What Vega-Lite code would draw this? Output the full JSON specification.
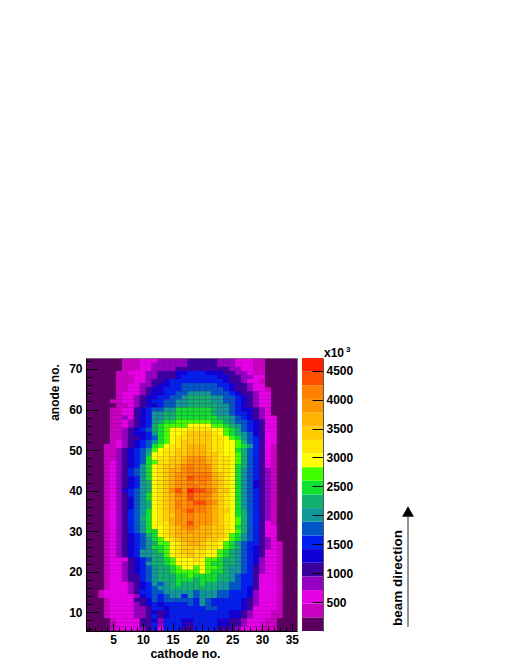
{"$schema":"https://vega.github.io/schema/vega-lite/v6.json","padding":{"left":47,"top":346,"right":5,"bottom":5},"background":"white","config":{"font":"Liberation Sans","concat":{"spacing":3}},"datasets":{"bar":[{"lo":0,"hi":236,"n":118},{"lo":236,"hi":472,"n":354},{"lo":472,"hi":708,"n":590},{"lo":708,"hi":944,"n":826},{"lo":944,"hi":1180,"n":1062},{"lo":1180,"hi":1416,"n":1298},{"lo":1416,"hi":1652,"n":1534},{"lo":1652,"hi":1888,"n":1770},{"lo":1888,"hi":2124,"n":2006},{"lo":2124,"hi":2360,"n":2242},{"lo":2360,"hi":2596,"n":2478},{"lo":2596,"hi":2832,"n":2714},{"lo":2832,"hi":3068,"n":2950},{"lo":3068,"hi":3304,"n":3186},{"lo":3304,"hi":3540,"n":3422},{"lo":3540,"hi":3776,"n":3658},{"lo":3776,"hi":4012,"n":3894},{"lo":4012,"hi":4248,"n":4130},{"lo":4248,"hi":4484,"n":4366},{"lo":4484,"hi":4720,"n":4602}],"cells":[
{"c":1,"a":72,"n":118},{"c":2,"a":72,"n":118},{"c":3,"a":72,"n":118},{"c":4,"a":72,"n":118},{"c":5,"a":72,"n":118},{"c":6,"a":72,"n":118},{"c":7,"a":72,"n":354},{"c":8,"a":72,"n":354},{"c":9,"a":72,"n":354},{"c":10,"a":72,"n":590},{"c":11,"a":72,"n":590},{"c":12,"a":72,"n":590},{"c":13,"a":72,"n":826},{"c":14,"a":72,"n":826},{"c":15,"a":72,"n":826},{"c":16,"a":72,"n":826},{"c":17,"a":72,"n":826},{"c":18,"a":72,"n":1062},{"c":19,"a":72,"n":1062},{"c":20,"a":72,"n":1062},{"c":21,"a":72,"n":1062},{"c":22,"a":72,"n":1062},{"c":23,"a":72,"n":826},{"c":24,"a":72,"n":826},{"c":25,"a":72,"n":826},{"c":26,"a":72,"n":590},{"c":27,"a":72,"n":590},{"c":28,"a":72,"n":590},{"c":29,"a":72,"n":354},{"c":30,"a":72,"n":354},{"c":31,"a":72,"n":118},{"c":32,"a":72,"n":118},{"c":33,"a":72,"n":118},{"c":34,"a":72,"n":118},{"c":35,"a":72,"n":118},
{"c":1,"a":71,"n":118},{"c":2,"a":71,"n":118},{"c":3,"a":71,"n":118},{"c":4,"a":71,"n":118},{"c":5,"a":71,"n":118},{"c":6,"a":71,"n":118},{"c":7,"a":71,"n":354},{"c":8,"a":71,"n":354},{"c":9,"a":71,"n":354},{"c":10,"a":71,"n":590},{"c":11,"a":71,"n":590},{"c":12,"a":71,"n":826},{"c":13,"a":71,"n":826},{"c":14,"a":71,"n":826},{"c":15,"a":71,"n":826},{"c":16,"a":71,"n":826},{"c":17,"a":71,"n":826},{"c":18,"a":71,"n":1062},{"c":19,"a":71,"n":1062},{"c":20,"a":71,"n":1062},{"c":21,"a":71,"n":1062},{"c":22,"a":71,"n":1062},{"c":23,"a":71,"n":826},{"c":24,"a":71,"n":826},{"c":25,"a":71,"n":826},{"c":26,"a":71,"n":590},{"c":27,"a":71,"n":590},{"c":28,"a":71,"n":590},{"c":29,"a":71,"n":354},{"c":30,"a":71,"n":354},{"c":31,"a":71,"n":118},{"c":32,"a":71,"n":118},{"c":33,"a":71,"n":118},{"c":34,"a":71,"n":118},{"c":35,"a":71,"n":118},
{"c":1,"a":70,"n":118},{"c":2,"a":70,"n":118},{"c":3,"a":70,"n":118},{"c":4,"a":70,"n":118},{"c":5,"a":70,"n":118},{"c":6,"a":70,"n":118},{"c":7,"a":70,"n":354},{"c":8,"a":70,"n":354},{"c":9,"a":70,"n":354},{"c":10,"a":70,"n":590},{"c":11,"a":70,"n":590},{"c":12,"a":70,"n":826},{"c":13,"a":70,"n":826},{"c":14,"a":70,"n":826},{"c":15,"a":70,"n":826},{"c":16,"a":70,"n":1062},{"c":17,"a":70,"n":1062},{"c":18,"a":70,"n":1062},{"c":19,"a":70,"n":1062},{"c":20,"a":70,"n":1062},{"c":21,"a":70,"n":1062},{"c":22,"a":70,"n":1062},{"c":23,"a":70,"n":1062},{"c":24,"a":70,"n":1062},{"c":25,"a":70,"n":826},{"c":26,"a":70,"n":826},{"c":27,"a":70,"n":590},{"c":28,"a":70,"n":590},{"c":29,"a":70,"n":354},{"c":30,"a":70,"n":354},{"c":31,"a":70,"n":118},{"c":32,"a":70,"n":118},{"c":33,"a":70,"n":118},{"c":34,"a":70,"n":118},{"c":35,"a":70,"n":118},
{"c":1,"a":69,"n":118},{"c":2,"a":69,"n":118},{"c":3,"a":69,"n":118},{"c":4,"a":69,"n":118},{"c":5,"a":69,"n":118},{"c":6,"a":69,"n":354},{"c":7,"a":69,"n":354},{"c":8,"a":69,"n":590},{"c":9,"a":69,"n":590},{"c":10,"a":69,"n":590},{"c":11,"a":69,"n":826},{"c":12,"a":69,"n":826},{"c":13,"a":69,"n":1062},{"c":14,"a":69,"n":1062},{"c":15,"a":69,"n":1062},{"c":16,"a":69,"n":1298},{"c":17,"a":69,"n":1298},{"c":18,"a":69,"n":1534},{"c":19,"a":69,"n":1534},{"c":20,"a":69,"n":1534},{"c":21,"a":69,"n":1298},{"c":22,"a":69,"n":1298},{"c":23,"a":69,"n":1298},{"c":24,"a":69,"n":1062},{"c":25,"a":69,"n":1062},{"c":26,"a":69,"n":826},{"c":27,"a":69,"n":826},{"c":28,"a":69,"n":590},{"c":29,"a":69,"n":354},{"c":30,"a":69,"n":354},{"c":31,"a":69,"n":118},{"c":32,"a":69,"n":118},{"c":33,"a":69,"n":118},{"c":34,"a":69,"n":118},{"c":35,"a":69,"n":118},
{"c":1,"a":68,"n":118},{"c":2,"a":68,"n":118},{"c":3,"a":68,"n":118},{"c":4,"a":68,"n":118},{"c":5,"a":68,"n":118},{"c":6,"a":68,"n":354},{"c":7,"a":68,"n":354},{"c":8,"a":68,"n":354},{"c":9,"a":68,"n":590},{"c":10,"a":68,"n":590},{"c":11,"a":68,"n":826},{"c":12,"a":68,"n":826},{"c":13,"a":68,"n":1062},{"c":14,"a":68,"n":1062},{"c":15,"a":68,"n":1062},{"c":16,"a":68,"n":1298},{"c":17,"a":68,"n":1534},{"c":18,"a":68,"n":1534},{"c":19,"a":68,"n":1534},{"c":20,"a":68,"n":1534},{"c":21,"a":68,"n":1534},{"c":22,"a":68,"n":1534},{"c":23,"a":68,"n":1298},{"c":24,"a":68,"n":1298},{"c":25,"a":68,"n":1062},{"c":26,"a":68,"n":1062},{"c":27,"a":68,"n":826},{"c":28,"a":68,"n":826},{"c":29,"a":68,"n":590},{"c":30,"a":68,"n":590},{"c":31,"a":68,"n":118},{"c":32,"a":68,"n":118},{"c":33,"a":68,"n":118},{"c":34,"a":68,"n":118},{"c":35,"a":68,"n":118},
{"c":1,"a":67,"n":118},{"c":2,"a":67,"n":118},{"c":3,"a":67,"n":118},{"c":4,"a":67,"n":118},{"c":5,"a":67,"n":118},{"c":6,"a":67,"n":354},{"c":7,"a":67,"n":354},{"c":8,"a":67,"n":354},{"c":9,"a":67,"n":590},{"c":10,"a":67,"n":590},{"c":11,"a":67,"n":826},{"c":12,"a":67,"n":1062},{"c":13,"a":67,"n":1062},{"c":14,"a":67,"n":1298},{"c":15,"a":67,"n":1534},{"c":16,"a":67,"n":1534},{"c":17,"a":67,"n":1534},{"c":18,"a":67,"n":1534},{"c":19,"a":67,"n":1534},{"c":20,"a":67,"n":1534},{"c":21,"a":67,"n":1534},{"c":22,"a":67,"n":1534},{"c":23,"a":67,"n":1534},{"c":24,"a":67,"n":1298},{"c":25,"a":67,"n":1062},{"c":26,"a":67,"n":1062},{"c":27,"a":67,"n":826},{"c":28,"a":67,"n":590},{"c":29,"a":67,"n":590},{"c":30,"a":67,"n":354},{"c":31,"a":67,"n":118},{"c":32,"a":67,"n":118},{"c":33,"a":67,"n":118},{"c":34,"a":67,"n":118},{"c":35,"a":67,"n":118},
{"c":1,"a":66,"n":118},{"c":2,"a":66,"n":118},{"c":3,"a":66,"n":118},{"c":4,"a":66,"n":118},{"c":5,"a":66,"n":118},{"c":6,"a":66,"n":354},{"c":7,"a":66,"n":354},{"c":8,"a":66,"n":590},{"c":9,"a":66,"n":590},{"c":10,"a":66,"n":826},{"c":11,"a":66,"n":826},{"c":12,"a":66,"n":1062},{"c":13,"a":66,"n":1298},{"c":14,"a":66,"n":1298},{"c":15,"a":66,"n":1534},{"c":16,"a":66,"n":1534},{"c":17,"a":66,"n":1770},{"c":18,"a":66,"n":1770},{"c":19,"a":66,"n":1770},{"c":20,"a":66,"n":1770},{"c":21,"a":66,"n":1770},{"c":22,"a":66,"n":1770},{"c":23,"a":66,"n":1534},{"c":24,"a":66,"n":1534},{"c":25,"a":66,"n":1298},{"c":26,"a":66,"n":1062},{"c":27,"a":66,"n":1062},{"c":28,"a":66,"n":826},{"c":29,"a":66,"n":590},{"c":30,"a":66,"n":590},{"c":31,"a":66,"n":118},{"c":32,"a":66,"n":118},{"c":33,"a":66,"n":118},{"c":34,"a":66,"n":118},{"c":35,"a":66,"n":118},
{"c":1,"a":65,"n":118},{"c":2,"a":65,"n":118},{"c":3,"a":65,"n":118},{"c":4,"a":65,"n":118},{"c":5,"a":65,"n":118},{"c":6,"a":65,"n":354},{"c":7,"a":65,"n":354},{"c":8,"a":65,"n":590},{"c":9,"a":65,"n":590},{"c":10,"a":65,"n":826},{"c":11,"a":65,"n":1062},{"c":12,"a":65,"n":1298},{"c":13,"a":65,"n":1298},{"c":14,"a":65,"n":1534},{"c":15,"a":65,"n":1534},{"c":16,"a":65,"n":1534},{"c":17,"a":65,"n":1770},{"c":18,"a":65,"n":1770},{"c":19,"a":65,"n":1770},{"c":20,"a":65,"n":1770},{"c":21,"a":65,"n":1770},{"c":22,"a":65,"n":1770},{"c":23,"a":65,"n":1770},{"c":24,"a":65,"n":1534},{"c":25,"a":65,"n":1298},{"c":26,"a":65,"n":1062},{"c":27,"a":65,"n":1062},{"c":28,"a":65,"n":826},{"c":29,"a":65,"n":590},{"c":30,"a":65,"n":590},{"c":31,"a":65,"n":354},{"c":32,"a":65,"n":118},{"c":33,"a":65,"n":118},{"c":34,"a":65,"n":118},{"c":35,"a":65,"n":118},
{"c":1,"a":64,"n":118},{"c":2,"a":64,"n":118},{"c":3,"a":64,"n":118},{"c":4,"a":64,"n":118},{"c":5,"a":64,"n":118},{"c":6,"a":64,"n":354},{"c":7,"a":64,"n":590},{"c":8,"a":64,"n":590},{"c":9,"a":64,"n":590},{"c":10,"a":64,"n":826},{"c":11,"a":64,"n":1062},{"c":12,"a":64,"n":1298},{"c":13,"a":64,"n":1298},{"c":14,"a":64,"n":1534},{"c":15,"a":64,"n":1534},{"c":16,"a":64,"n":1770},{"c":17,"a":64,"n":1770},{"c":18,"a":64,"n":2006},{"c":19,"a":64,"n":2006},{"c":20,"a":64,"n":2006},{"c":21,"a":64,"n":2006},{"c":22,"a":64,"n":1770},{"c":23,"a":64,"n":1770},{"c":24,"a":64,"n":1770},{"c":25,"a":64,"n":1534},{"c":26,"a":64,"n":1298},{"c":27,"a":64,"n":1062},{"c":28,"a":64,"n":1062},{"c":29,"a":64,"n":826},{"c":30,"a":64,"n":590},{"c":31,"a":64,"n":590},{"c":32,"a":64,"n":118},{"c":33,"a":64,"n":118},{"c":34,"a":64,"n":118},{"c":35,"a":64,"n":118},
{"c":1,"a":63,"n":118},{"c":2,"a":63,"n":118},{"c":3,"a":63,"n":118},{"c":4,"a":63,"n":118},{"c":5,"a":63,"n":118},{"c":6,"a":63,"n":354},{"c":7,"a":63,"n":590},{"c":8,"a":63,"n":590},{"c":9,"a":63,"n":826},{"c":10,"a":63,"n":1062},{"c":11,"a":63,"n":1298},{"c":12,"a":63,"n":1298},{"c":13,"a":63,"n":1534},{"c":14,"a":63,"n":1534},{"c":15,"a":63,"n":1770},{"c":16,"a":63,"n":1770},{"c":17,"a":63,"n":2006},{"c":18,"a":63,"n":2242},{"c":19,"a":63,"n":2242},{"c":20,"a":63,"n":2242},{"c":21,"a":63,"n":2242},{"c":22,"a":63,"n":2006},{"c":23,"a":63,"n":2006},{"c":24,"a":63,"n":1770},{"c":25,"a":63,"n":1770},{"c":26,"a":63,"n":1534},{"c":27,"a":63,"n":1298},{"c":28,"a":63,"n":1062},{"c":29,"a":63,"n":826},{"c":30,"a":63,"n":590},{"c":31,"a":63,"n":590},{"c":32,"a":63,"n":118},{"c":33,"a":63,"n":118},{"c":34,"a":63,"n":118},{"c":35,"a":63,"n":118},
{"c":1,"a":62,"n":118},{"c":2,"a":62,"n":118},{"c":3,"a":62,"n":118},{"c":4,"a":62,"n":118},{"c":5,"a":62,"n":354},{"c":6,"a":62,"n":354},{"c":7,"a":62,"n":590},{"c":8,"a":62,"n":590},{"c":9,"a":62,"n":826},{"c":10,"a":62,"n":1062},{"c":11,"a":62,"n":1298},{"c":12,"a":62,"n":1534},{"c":13,"a":62,"n":1534},{"c":14,"a":62,"n":1770},{"c":15,"a":62,"n":1770},{"c":16,"a":62,"n":2006},{"c":17,"a":62,"n":2006},{"c":18,"a":62,"n":2242},{"c":19,"a":62,"n":2242},{"c":20,"a":62,"n":2242},{"c":21,"a":62,"n":2242},{"c":22,"a":62,"n":2006},{"c":23,"a":62,"n":2006},{"c":24,"a":62,"n":1770},{"c":25,"a":62,"n":1770},{"c":26,"a":62,"n":1534},{"c":27,"a":62,"n":1298},{"c":28,"a":62,"n":1062},{"c":29,"a":62,"n":826},{"c":30,"a":62,"n":590},{"c":31,"a":62,"n":590},{"c":32,"a":62,"n":118},{"c":33,"a":62,"n":118},{"c":34,"a":62,"n":118},{"c":35,"a":62,"n":118},
{"c":1,"a":61,"n":118},{"c":2,"a":61,"n":118},{"c":3,"a":61,"n":118},{"c":4,"a":61,"n":118},{"c":5,"a":61,"n":118},{"c":6,"a":61,"n":354},{"c":7,"a":61,"n":354},{"c":8,"a":61,"n":590},{"c":9,"a":61,"n":826},{"c":10,"a":61,"n":1062},{"c":11,"a":61,"n":1298},{"c":12,"a":61,"n":1298},{"c":13,"a":61,"n":1534},{"c":14,"a":61,"n":1770},{"c":15,"a":61,"n":1770},{"c":16,"a":61,"n":2006},{"c":17,"a":61,"n":2006},{"c":18,"a":61,"n":2242},{"c":19,"a":61,"n":2242},{"c":20,"a":61,"n":2242},{"c":21,"a":61,"n":2242},{"c":22,"a":61,"n":2242},{"c":23,"a":61,"n":2006},{"c":24,"a":61,"n":2006},{"c":25,"a":61,"n":1770},{"c":26,"a":61,"n":1534},{"c":27,"a":61,"n":1298},{"c":28,"a":61,"n":1062},{"c":29,"a":61,"n":826},{"c":30,"a":61,"n":590},{"c":31,"a":61,"n":590},{"c":32,"a":61,"n":118},{"c":33,"a":61,"n":118},{"c":34,"a":61,"n":118},{"c":35,"a":61,"n":118},
{"c":1,"a":60,"n":118},{"c":2,"a":60,"n":118},{"c":3,"a":60,"n":118},{"c":4,"a":60,"n":118},{"c":5,"a":60,"n":354},{"c":6,"a":60,"n":354},{"c":7,"a":60,"n":590},{"c":8,"a":60,"n":590},{"c":9,"a":60,"n":1062},{"c":10,"a":60,"n":1298},{"c":11,"a":60,"n":1534},{"c":12,"a":60,"n":1770},{"c":13,"a":60,"n":1770},{"c":14,"a":60,"n":2006},{"c":15,"a":60,"n":2006},{"c":16,"a":60,"n":2478},{"c":17,"a":60,"n":2478},{"c":18,"a":60,"n":2478},{"c":19,"a":60,"n":2478},{"c":20,"a":60,"n":2478},{"c":21,"a":60,"n":2478},{"c":22,"a":60,"n":2242},{"c":23,"a":60,"n":2006},{"c":24,"a":60,"n":2006},{"c":25,"a":60,"n":1770},{"c":26,"a":60,"n":1534},{"c":27,"a":60,"n":1298},{"c":28,"a":60,"n":1298},{"c":29,"a":60,"n":1062},{"c":30,"a":60,"n":826},{"c":31,"a":60,"n":590},{"c":32,"a":60,"n":118},{"c":33,"a":60,"n":118},{"c":34,"a":60,"n":118},{"c":35,"a":60,"n":118},
{"c":1,"a":59,"n":118},{"c":2,"a":59,"n":118},{"c":3,"a":59,"n":118},{"c":4,"a":59,"n":118},{"c":5,"a":59,"n":354},{"c":6,"a":59,"n":354},{"c":7,"a":59,"n":590},{"c":8,"a":59,"n":590},{"c":9,"a":59,"n":1062},{"c":10,"a":59,"n":1298},{"c":11,"a":59,"n":1534},{"c":12,"a":59,"n":2006},{"c":13,"a":59,"n":2006},{"c":14,"a":59,"n":2242},{"c":15,"a":59,"n":2242},{"c":16,"a":59,"n":2478},{"c":17,"a":59,"n":2478},{"c":18,"a":59,"n":2478},{"c":19,"a":59,"n":2478},{"c":20,"a":59,"n":2478},{"c":21,"a":59,"n":2478},{"c":22,"a":59,"n":2242},{"c":23,"a":59,"n":2006},{"c":24,"a":59,"n":2006},{"c":25,"a":59,"n":1770},{"c":26,"a":59,"n":1534},{"c":27,"a":59,"n":1534},{"c":28,"a":59,"n":1298},{"c":29,"a":59,"n":1062},{"c":30,"a":59,"n":826},{"c":31,"a":59,"n":590},{"c":32,"a":59,"n":118},{"c":33,"a":59,"n":118},{"c":34,"a":59,"n":118},{"c":35,"a":59,"n":118},
{"c":1,"a":58,"n":118},{"c":2,"a":58,"n":118},{"c":3,"a":58,"n":118},{"c":4,"a":58,"n":118},{"c":5,"a":58,"n":354},{"c":6,"a":58,"n":354},{"c":7,"a":58,"n":826},{"c":8,"a":58,"n":590},{"c":9,"a":58,"n":1062},{"c":10,"a":58,"n":1298},{"c":11,"a":58,"n":1534},{"c":12,"a":58,"n":2006},{"c":13,"a":58,"n":2006},{"c":14,"a":58,"n":2242},{"c":15,"a":58,"n":2242},{"c":16,"a":58,"n":2478},{"c":17,"a":58,"n":2478},{"c":18,"a":58,"n":2478},{"c":19,"a":58,"n":2478},{"c":20,"a":58,"n":2478},{"c":21,"a":58,"n":2478},{"c":22,"a":58,"n":2478},{"c":23,"a":58,"n":2242},{"c":24,"a":58,"n":2242},{"c":25,"a":58,"n":2006},{"c":26,"a":58,"n":1770},{"c":27,"a":58,"n":1534},{"c":28,"a":58,"n":1298},{"c":29,"a":58,"n":1062},{"c":30,"a":58,"n":826},{"c":31,"a":58,"n":590},{"c":32,"a":58,"n":590},{"c":33,"a":58,"n":118},{"c":34,"a":58,"n":118},{"c":35,"a":58,"n":118},
{"c":1,"a":57,"n":118},{"c":2,"a":57,"n":118},{"c":3,"a":57,"n":118},{"c":4,"a":57,"n":118},{"c":5,"a":57,"n":354},{"c":6,"a":57,"n":354},{"c":7,"a":57,"n":590},{"c":8,"a":57,"n":826},{"c":9,"a":57,"n":1062},{"c":10,"a":57,"n":1298},{"c":11,"a":57,"n":1534},{"c":12,"a":57,"n":2006},{"c":13,"a":57,"n":2242},{"c":14,"a":57,"n":2478},{"c":15,"a":57,"n":2478},{"c":16,"a":57,"n":2714},{"c":17,"a":57,"n":2714},{"c":18,"a":57,"n":2714},{"c":19,"a":57,"n":2714},{"c":20,"a":57,"n":2714},{"c":21,"a":57,"n":2714},{"c":22,"a":57,"n":2478},{"c":23,"a":57,"n":2478},{"c":24,"a":57,"n":2242},{"c":25,"a":57,"n":2006},{"c":26,"a":57,"n":1770},{"c":27,"a":57,"n":1770},{"c":28,"a":57,"n":1534},{"c":29,"a":57,"n":1298},{"c":30,"a":57,"n":1062},{"c":31,"a":57,"n":590},{"c":32,"a":57,"n":590},{"c":33,"a":57,"n":118},{"c":34,"a":57,"n":118},{"c":35,"a":57,"n":118},
{"c":1,"a":56,"n":118},{"c":2,"a":56,"n":118},{"c":3,"a":56,"n":118},{"c":4,"a":56,"n":118},{"c":5,"a":56,"n":354},{"c":6,"a":56,"n":354},{"c":7,"a":56,"n":590},{"c":8,"a":56,"n":826},{"c":9,"a":56,"n":1062},{"c":10,"a":56,"n":1298},{"c":11,"a":56,"n":1534},{"c":12,"a":56,"n":2242},{"c":13,"a":56,"n":2478},{"c":14,"a":56,"n":2714},{"c":15,"a":56,"n":2714},{"c":16,"a":56,"n":2714},{"c":17,"a":56,"n":2714},{"c":18,"a":56,"n":2950},{"c":19,"a":56,"n":2950},{"c":20,"a":56,"n":2950},{"c":21,"a":56,"n":2950},{"c":22,"a":56,"n":2714},{"c":23,"a":56,"n":2714},{"c":24,"a":56,"n":2478},{"c":25,"a":56,"n":2242},{"c":26,"a":56,"n":2006},{"c":27,"a":56,"n":1770},{"c":28,"a":56,"n":1534},{"c":29,"a":56,"n":1298},{"c":30,"a":56,"n":1062},{"c":31,"a":56,"n":590},{"c":32,"a":56,"n":590},{"c":33,"a":56,"n":118},{"c":34,"a":56,"n":118},{"c":35,"a":56,"n":118},
{"c":1,"a":55,"n":118},{"c":2,"a":55,"n":118},{"c":3,"a":55,"n":118},{"c":4,"a":55,"n":118},{"c":5,"a":55,"n":354},{"c":6,"a":55,"n":354},{"c":7,"a":55,"n":826},{"c":8,"a":55,"n":1062},{"c":9,"a":55,"n":1298},{"c":10,"a":55,"n":1534},{"c":11,"a":55,"n":1770},{"c":12,"a":55,"n":2242},{"c":13,"a":55,"n":2478},{"c":14,"a":55,"n":2714},{"c":15,"a":55,"n":2950},{"c":16,"a":55,"n":2950},{"c":17,"a":55,"n":2950},{"c":18,"a":55,"n":3186},{"c":19,"a":55,"n":3186},{"c":20,"a":55,"n":3186},{"c":21,"a":55,"n":3186},{"c":22,"a":55,"n":2950},{"c":23,"a":55,"n":2950},{"c":24,"a":55,"n":2714},{"c":25,"a":55,"n":2478},{"c":26,"a":55,"n":2242},{"c":27,"a":55,"n":1770},{"c":28,"a":55,"n":1534},{"c":29,"a":55,"n":1298},{"c":30,"a":55,"n":1062},{"c":31,"a":55,"n":590},{"c":32,"a":55,"n":590},{"c":33,"a":55,"n":118},{"c":34,"a":55,"n":118},{"c":35,"a":55,"n":118},
{"c":1,"a":54,"n":118},{"c":2,"a":54,"n":118},{"c":3,"a":54,"n":118},{"c":4,"a":54,"n":118},{"c":5,"a":54,"n":354},{"c":6,"a":54,"n":354},{"c":7,"a":54,"n":826},{"c":8,"a":54,"n":1062},{"c":9,"a":54,"n":1298},{"c":10,"a":54,"n":1298},{"c":11,"a":54,"n":1534},{"c":12,"a":54,"n":2006},{"c":13,"a":54,"n":2478},{"c":14,"a":54,"n":2714},{"c":15,"a":54,"n":2950},{"c":16,"a":54,"n":2950},{"c":17,"a":54,"n":3186},{"c":18,"a":54,"n":3422},{"c":19,"a":54,"n":3422},{"c":20,"a":54,"n":3422},{"c":21,"a":54,"n":3422},{"c":22,"a":54,"n":3186},{"c":23,"a":54,"n":2950},{"c":24,"a":54,"n":2714},{"c":25,"a":54,"n":2478},{"c":26,"a":54,"n":2242},{"c":27,"a":54,"n":2006},{"c":28,"a":54,"n":1770},{"c":29,"a":54,"n":1298},{"c":30,"a":54,"n":1062},{"c":31,"a":54,"n":590},{"c":32,"a":54,"n":590},{"c":33,"a":54,"n":118},{"c":34,"a":54,"n":118},{"c":35,"a":54,"n":118},
{"c":1,"a":53,"n":118},{"c":2,"a":53,"n":118},{"c":3,"a":53,"n":118},{"c":4,"a":53,"n":118},{"c":5,"a":53,"n":354},{"c":6,"a":53,"n":354},{"c":7,"a":53,"n":826},{"c":8,"a":53,"n":1062},{"c":9,"a":53,"n":1062},{"c":10,"a":53,"n":1298},{"c":11,"a":53,"n":1534},{"c":12,"a":53,"n":1770},{"c":13,"a":53,"n":2478},{"c":14,"a":53,"n":2714},{"c":15,"a":53,"n":2950},{"c":16,"a":53,"n":3186},{"c":17,"a":53,"n":3186},{"c":18,"a":53,"n":3422},{"c":19,"a":53,"n":3422},{"c":20,"a":53,"n":3422},{"c":21,"a":53,"n":3422},{"c":22,"a":53,"n":3186},{"c":23,"a":53,"n":3186},{"c":24,"a":53,"n":2950},{"c":25,"a":53,"n":2714},{"c":26,"a":53,"n":2478},{"c":27,"a":53,"n":2006},{"c":28,"a":53,"n":1770},{"c":29,"a":53,"n":1534},{"c":30,"a":53,"n":1062},{"c":31,"a":53,"n":590},{"c":32,"a":53,"n":590},{"c":33,"a":53,"n":118},{"c":34,"a":53,"n":118},{"c":35,"a":53,"n":118},
{"c":1,"a":52,"n":118},{"c":2,"a":52,"n":118},{"c":3,"a":52,"n":118},{"c":4,"a":52,"n":118},{"c":5,"a":52,"n":354},{"c":6,"a":52,"n":590},{"c":7,"a":52,"n":826},{"c":8,"a":52,"n":1062},{"c":9,"a":52,"n":1298},{"c":10,"a":52,"n":1534},{"c":11,"a":52,"n":1770},{"c":12,"a":52,"n":2006},{"c":13,"a":52,"n":2478},{"c":14,"a":52,"n":2714},{"c":15,"a":52,"n":2950},{"c":16,"a":52,"n":3186},{"c":17,"a":52,"n":3422},{"c":18,"a":52,"n":3422},{"c":19,"a":52,"n":3422},{"c":20,"a":52,"n":3422},{"c":21,"a":52,"n":3422},{"c":22,"a":52,"n":3186},{"c":23,"a":52,"n":3186},{"c":24,"a":52,"n":2950},{"c":25,"a":52,"n":2950},{"c":26,"a":52,"n":2714},{"c":27,"a":52,"n":2242},{"c":28,"a":52,"n":1770},{"c":29,"a":52,"n":1534},{"c":30,"a":52,"n":1062},{"c":31,"a":52,"n":590},{"c":32,"a":52,"n":590},{"c":33,"a":52,"n":118},{"c":34,"a":52,"n":118},{"c":35,"a":52,"n":118},
{"c":1,"a":51,"n":118},{"c":2,"a":51,"n":118},{"c":3,"a":51,"n":118},{"c":4,"a":51,"n":354},{"c":5,"a":51,"n":354},{"c":6,"a":51,"n":590},{"c":7,"a":51,"n":826},{"c":8,"a":51,"n":1062},{"c":9,"a":51,"n":1298},{"c":10,"a":51,"n":1534},{"c":11,"a":51,"n":1770},{"c":12,"a":51,"n":2478},{"c":13,"a":51,"n":2714},{"c":14,"a":51,"n":2950},{"c":15,"a":51,"n":3186},{"c":16,"a":51,"n":3186},{"c":17,"a":51,"n":3422},{"c":18,"a":51,"n":3658},{"c":19,"a":51,"n":3658},{"c":20,"a":51,"n":3658},{"c":21,"a":51,"n":3422},{"c":22,"a":51,"n":3186},{"c":23,"a":51,"n":3186},{"c":24,"a":51,"n":2950},{"c":25,"a":51,"n":2950},{"c":26,"a":51,"n":2714},{"c":27,"a":51,"n":2478},{"c":28,"a":51,"n":2006},{"c":29,"a":51,"n":1534},{"c":30,"a":51,"n":1062},{"c":31,"a":51,"n":590},{"c":32,"a":51,"n":354},{"c":33,"a":51,"n":118},{"c":34,"a":51,"n":118},{"c":35,"a":51,"n":118},
{"c":1,"a":50,"n":118},{"c":2,"a":50,"n":118},{"c":3,"a":50,"n":118},{"c":4,"a":50,"n":354},{"c":5,"a":50,"n":354},{"c":6,"a":50,"n":826},{"c":7,"a":50,"n":1062},{"c":8,"a":50,"n":1298},{"c":9,"a":50,"n":1534},{"c":10,"a":50,"n":1770},{"c":11,"a":50,"n":2006},{"c":12,"a":50,"n":2714},{"c":13,"a":50,"n":2950},{"c":14,"a":50,"n":3186},{"c":15,"a":50,"n":3186},{"c":16,"a":50,"n":3422},{"c":17,"a":50,"n":3422},{"c":18,"a":50,"n":3658},{"c":19,"a":50,"n":3658},{"c":20,"a":50,"n":3658},{"c":21,"a":50,"n":3422},{"c":22,"a":50,"n":3186},{"c":23,"a":50,"n":3186},{"c":24,"a":50,"n":2950},{"c":25,"a":50,"n":2950},{"c":26,"a":50,"n":2478},{"c":27,"a":50,"n":2242},{"c":28,"a":50,"n":1770},{"c":29,"a":50,"n":1534},{"c":30,"a":50,"n":1062},{"c":31,"a":50,"n":590},{"c":32,"a":50,"n":354},{"c":33,"a":50,"n":118},{"c":34,"a":50,"n":118},{"c":35,"a":50,"n":118},
{"c":1,"a":49,"n":118},{"c":2,"a":49,"n":118},{"c":3,"a":49,"n":118},{"c":4,"a":49,"n":354},{"c":5,"a":49,"n":354},{"c":6,"a":49,"n":826},{"c":7,"a":49,"n":1062},{"c":8,"a":49,"n":1298},{"c":9,"a":49,"n":1534},{"c":10,"a":49,"n":1770},{"c":11,"a":49,"n":2242},{"c":12,"a":49,"n":2950},{"c":13,"a":49,"n":2950},{"c":14,"a":49,"n":3186},{"c":15,"a":49,"n":3186},{"c":16,"a":49,"n":3422},{"c":17,"a":49,"n":3422},{"c":18,"a":49,"n":3658},{"c":19,"a":49,"n":3658},{"c":20,"a":49,"n":3658},{"c":21,"a":49,"n":3422},{"c":22,"a":49,"n":3422},{"c":23,"a":49,"n":3186},{"c":24,"a":49,"n":2950},{"c":25,"a":49,"n":2950},{"c":26,"a":49,"n":2714},{"c":27,"a":49,"n":2242},{"c":28,"a":49,"n":1770},{"c":29,"a":49,"n":1534},{"c":30,"a":49,"n":1062},{"c":31,"a":49,"n":590},{"c":32,"a":49,"n":354},{"c":33,"a":49,"n":118},{"c":34,"a":49,"n":118},{"c":35,"a":49,"n":118},
{"c":1,"a":48,"n":118},{"c":2,"a":48,"n":118},{"c":3,"a":48,"n":118},{"c":4,"a":48,"n":354},{"c":5,"a":48,"n":354},{"c":6,"a":48,"n":826},{"c":7,"a":48,"n":1062},{"c":8,"a":48,"n":1298},{"c":9,"a":48,"n":1534},{"c":10,"a":48,"n":1770},{"c":11,"a":48,"n":2478},{"c":12,"a":48,"n":2950},{"c":13,"a":48,"n":3186},{"c":14,"a":48,"n":3186},{"c":15,"a":48,"n":3422},{"c":16,"a":48,"n":3422},{"c":17,"a":48,"n":3658},{"c":18,"a":48,"n":3894},{"c":19,"a":48,"n":3894},{"c":20,"a":48,"n":3894},{"c":21,"a":48,"n":3658},{"c":22,"a":48,"n":3422},{"c":23,"a":48,"n":3186},{"c":24,"a":48,"n":3186},{"c":25,"a":48,"n":2950},{"c":26,"a":48,"n":2714},{"c":27,"a":48,"n":2242},{"c":28,"a":48,"n":1770},{"c":29,"a":48,"n":1534},{"c":30,"a":48,"n":1062},{"c":31,"a":48,"n":590},{"c":32,"a":48,"n":354},{"c":33,"a":48,"n":118},{"c":34,"a":48,"n":118},{"c":35,"a":48,"n":118},
{"c":1,"a":47,"n":118},{"c":2,"a":47,"n":118},{"c":3,"a":47,"n":118},{"c":4,"a":47,"n":354},{"c":5,"a":47,"n":590},{"c":6,"a":47,"n":826},{"c":7,"a":47,"n":1062},{"c":8,"a":47,"n":1298},{"c":9,"a":47,"n":1534},{"c":10,"a":47,"n":1770},{"c":11,"a":47,"n":2478},{"c":12,"a":47,"n":2714},{"c":13,"a":47,"n":3186},{"c":14,"a":47,"n":3186},{"c":15,"a":47,"n":3422},{"c":16,"a":47,"n":3422},{"c":17,"a":47,"n":3658},{"c":18,"a":47,"n":3894},{"c":19,"a":47,"n":3894},{"c":20,"a":47,"n":3894},{"c":21,"a":47,"n":3658},{"c":22,"a":47,"n":3422},{"c":23,"a":47,"n":3186},{"c":24,"a":47,"n":3186},{"c":25,"a":47,"n":2950},{"c":26,"a":47,"n":2714},{"c":27,"a":47,"n":2242},{"c":28,"a":47,"n":1770},{"c":29,"a":47,"n":1534},{"c":30,"a":47,"n":1062},{"c":31,"a":47,"n":590},{"c":32,"a":47,"n":354},{"c":33,"a":47,"n":118},{"c":34,"a":47,"n":118},{"c":35,"a":47,"n":118},
{"c":1,"a":46,"n":118},{"c":2,"a":46,"n":118},{"c":3,"a":46,"n":118},{"c":4,"a":46,"n":354},{"c":5,"a":46,"n":590},{"c":6,"a":46,"n":826},{"c":7,"a":46,"n":1062},{"c":8,"a":46,"n":1298},{"c":9,"a":46,"n":1534},{"c":10,"a":46,"n":2006},{"c":11,"a":46,"n":2478},{"c":12,"a":46,"n":2950},{"c":13,"a":46,"n":3186},{"c":14,"a":46,"n":3422},{"c":15,"a":46,"n":3422},{"c":16,"a":46,"n":3658},{"c":17,"a":46,"n":3894},{"c":18,"a":46,"n":4130},{"c":19,"a":46,"n":3894},{"c":20,"a":46,"n":3894},{"c":21,"a":46,"n":3894},{"c":22,"a":46,"n":3422},{"c":23,"a":46,"n":3186},{"c":24,"a":46,"n":3186},{"c":25,"a":46,"n":2950},{"c":26,"a":46,"n":2478},{"c":27,"a":46,"n":2242},{"c":28,"a":46,"n":1770},{"c":29,"a":46,"n":1534},{"c":30,"a":46,"n":1062},{"c":31,"a":46,"n":590},{"c":32,"a":46,"n":354},{"c":33,"a":46,"n":118},{"c":34,"a":46,"n":118},{"c":35,"a":46,"n":118},
{"c":1,"a":45,"n":118},{"c":2,"a":45,"n":118},{"c":3,"a":45,"n":118},{"c":4,"a":45,"n":354},{"c":5,"a":45,"n":590},{"c":6,"a":45,"n":826},{"c":7,"a":45,"n":1062},{"c":8,"a":45,"n":1534},{"c":9,"a":45,"n":1770},{"c":10,"a":45,"n":2006},{"c":11,"a":45,"n":2478},{"c":12,"a":45,"n":2950},{"c":13,"a":45,"n":3186},{"c":14,"a":45,"n":3422},{"c":15,"a":45,"n":3658},{"c":16,"a":45,"n":3658},{"c":17,"a":45,"n":3894},{"c":18,"a":45,"n":4130},{"c":19,"a":45,"n":3894},{"c":20,"a":45,"n":3894},{"c":21,"a":45,"n":3894},{"c":22,"a":45,"n":3422},{"c":23,"a":45,"n":3186},{"c":24,"a":45,"n":3186},{"c":25,"a":45,"n":2950},{"c":26,"a":45,"n":2478},{"c":27,"a":45,"n":2006},{"c":28,"a":45,"n":1770},{"c":29,"a":45,"n":1534},{"c":30,"a":45,"n":1062},{"c":31,"a":45,"n":826},{"c":32,"a":45,"n":354},{"c":33,"a":45,"n":118},{"c":34,"a":45,"n":118},{"c":35,"a":45,"n":118},
{"c":1,"a":44,"n":118},{"c":2,"a":44,"n":118},{"c":3,"a":44,"n":118},{"c":4,"a":44,"n":354},{"c":5,"a":44,"n":590},{"c":6,"a":44,"n":826},{"c":7,"a":44,"n":1062},{"c":8,"a":44,"n":1534},{"c":9,"a":44,"n":1770},{"c":10,"a":44,"n":2006},{"c":11,"a":44,"n":2478},{"c":12,"a":44,"n":2950},{"c":13,"a":44,"n":3186},{"c":14,"a":44,"n":3422},{"c":15,"a":44,"n":3658},{"c":16,"a":44,"n":3894},{"c":17,"a":44,"n":3894},{"c":18,"a":44,"n":4130},{"c":19,"a":44,"n":4130},{"c":20,"a":44,"n":4130},{"c":21,"a":44,"n":4130},{"c":22,"a":44,"n":3658},{"c":23,"a":44,"n":3422},{"c":24,"a":44,"n":3186},{"c":25,"a":44,"n":2950},{"c":26,"a":44,"n":2478},{"c":27,"a":44,"n":2006},{"c":28,"a":44,"n":1770},{"c":29,"a":44,"n":1534},{"c":30,"a":44,"n":1062},{"c":31,"a":44,"n":826},{"c":32,"a":44,"n":354},{"c":33,"a":44,"n":118},{"c":34,"a":44,"n":118},{"c":35,"a":44,"n":118},
{"c":1,"a":43,"n":118},{"c":2,"a":43,"n":118},{"c":3,"a":43,"n":118},{"c":4,"a":43,"n":354},{"c":5,"a":43,"n":590},{"c":6,"a":43,"n":826},{"c":7,"a":43,"n":1062},{"c":8,"a":43,"n":1298},{"c":9,"a":43,"n":1534},{"c":10,"a":43,"n":2006},{"c":11,"a":43,"n":2478},{"c":12,"a":43,"n":2950},{"c":13,"a":43,"n":3186},{"c":14,"a":43,"n":3422},{"c":15,"a":43,"n":3658},{"c":16,"a":43,"n":3894},{"c":17,"a":43,"n":3894},{"c":18,"a":43,"n":4366},{"c":19,"a":43,"n":4130},{"c":20,"a":43,"n":4130},{"c":21,"a":43,"n":4130},{"c":22,"a":43,"n":3658},{"c":23,"a":43,"n":3422},{"c":24,"a":43,"n":3186},{"c":25,"a":43,"n":2950},{"c":26,"a":43,"n":2478},{"c":27,"a":43,"n":2006},{"c":28,"a":43,"n":1770},{"c":29,"a":43,"n":1534},{"c":30,"a":43,"n":1062},{"c":31,"a":43,"n":826},{"c":32,"a":43,"n":354},{"c":33,"a":43,"n":118},{"c":34,"a":43,"n":118},{"c":35,"a":43,"n":118},
{"c":1,"a":42,"n":118},{"c":2,"a":42,"n":118},{"c":3,"a":42,"n":118},{"c":4,"a":42,"n":354},{"c":5,"a":42,"n":590},{"c":6,"a":42,"n":826},{"c":7,"a":42,"n":1062},{"c":8,"a":42,"n":1298},{"c":9,"a":42,"n":1534},{"c":10,"a":42,"n":2006},{"c":11,"a":42,"n":2242},{"c":12,"a":42,"n":2950},{"c":13,"a":42,"n":3186},{"c":14,"a":42,"n":3422},{"c":15,"a":42,"n":3658},{"c":16,"a":42,"n":3894},{"c":17,"a":42,"n":3894},{"c":18,"a":42,"n":4130},{"c":19,"a":42,"n":3894},{"c":20,"a":42,"n":4130},{"c":21,"a":42,"n":3894},{"c":22,"a":42,"n":3658},{"c":23,"a":42,"n":3422},{"c":24,"a":42,"n":3186},{"c":25,"a":42,"n":2950},{"c":26,"a":42,"n":2478},{"c":27,"a":42,"n":2006},{"c":28,"a":42,"n":1770},{"c":29,"a":42,"n":1298},{"c":30,"a":42,"n":1062},{"c":31,"a":42,"n":826},{"c":32,"a":42,"n":354},{"c":33,"a":42,"n":118},{"c":34,"a":42,"n":118},{"c":35,"a":42,"n":118},
{"c":1,"a":41,"n":118},{"c":2,"a":41,"n":118},{"c":3,"a":41,"n":118},{"c":4,"a":41,"n":354},{"c":5,"a":41,"n":590},{"c":6,"a":41,"n":826},{"c":7,"a":41,"n":1062},{"c":8,"a":41,"n":1298},{"c":9,"a":41,"n":1534},{"c":10,"a":41,"n":2006},{"c":11,"a":41,"n":2242},{"c":12,"a":41,"n":2950},{"c":13,"a":41,"n":3186},{"c":14,"a":41,"n":3422},{"c":15,"a":41,"n":3658},{"c":16,"a":41,"n":3894},{"c":17,"a":41,"n":3894},{"c":18,"a":41,"n":4130},{"c":19,"a":41,"n":4130},{"c":20,"a":41,"n":3894},{"c":21,"a":41,"n":3894},{"c":22,"a":41,"n":3658},{"c":23,"a":41,"n":3422},{"c":24,"a":41,"n":3186},{"c":25,"a":41,"n":2950},{"c":26,"a":41,"n":2478},{"c":27,"a":41,"n":2006},{"c":28,"a":41,"n":1770},{"c":29,"a":41,"n":1298},{"c":30,"a":41,"n":1062},{"c":31,"a":41,"n":826},{"c":32,"a":41,"n":354},{"c":33,"a":41,"n":118},{"c":34,"a":41,"n":118},{"c":35,"a":41,"n":118},
{"c":1,"a":40,"n":118},{"c":2,"a":40,"n":118},{"c":3,"a":40,"n":118},{"c":4,"a":40,"n":354},{"c":5,"a":40,"n":590},{"c":6,"a":40,"n":826},{"c":7,"a":40,"n":1298},{"c":8,"a":40,"n":1534},{"c":9,"a":40,"n":1770},{"c":10,"a":40,"n":2006},{"c":11,"a":40,"n":2242},{"c":12,"a":40,"n":2950},{"c":13,"a":40,"n":3186},{"c":14,"a":40,"n":3422},{"c":15,"a":40,"n":3894},{"c":16,"a":40,"n":4366},{"c":17,"a":40,"n":3894},{"c":18,"a":40,"n":4602},{"c":19,"a":40,"n":4366},{"c":20,"a":40,"n":4366},{"c":21,"a":40,"n":4130},{"c":22,"a":40,"n":3894},{"c":23,"a":40,"n":3422},{"c":24,"a":40,"n":3422},{"c":25,"a":40,"n":2950},{"c":26,"a":40,"n":2478},{"c":27,"a":40,"n":2006},{"c":28,"a":40,"n":1770},{"c":29,"a":40,"n":1534},{"c":30,"a":40,"n":1062},{"c":31,"a":40,"n":826},{"c":32,"a":40,"n":354},{"c":33,"a":40,"n":118},{"c":34,"a":40,"n":118},{"c":35,"a":40,"n":118},
{"c":1,"a":39,"n":118},{"c":2,"a":39,"n":118},{"c":3,"a":39,"n":118},{"c":4,"a":39,"n":354},{"c":5,"a":39,"n":590},{"c":6,"a":39,"n":826},{"c":7,"a":39,"n":1062},{"c":8,"a":39,"n":1534},{"c":9,"a":39,"n":1770},{"c":10,"a":39,"n":2006},{"c":11,"a":39,"n":2478},{"c":12,"a":39,"n":2950},{"c":13,"a":39,"n":3186},{"c":14,"a":39,"n":3422},{"c":15,"a":39,"n":3658},{"c":16,"a":39,"n":4130},{"c":17,"a":39,"n":3894},{"c":18,"a":39,"n":4366},{"c":19,"a":39,"n":4130},{"c":20,"a":39,"n":4130},{"c":21,"a":39,"n":4130},{"c":22,"a":39,"n":3658},{"c":23,"a":39,"n":3422},{"c":24,"a":39,"n":3186},{"c":25,"a":39,"n":2950},{"c":26,"a":39,"n":2478},{"c":27,"a":39,"n":2006},{"c":28,"a":39,"n":1770},{"c":29,"a":39,"n":1534},{"c":30,"a":39,"n":1062},{"c":31,"a":39,"n":826},{"c":32,"a":39,"n":354},{"c":33,"a":39,"n":118},{"c":34,"a":39,"n":118},{"c":35,"a":39,"n":118},
{"c":1,"a":38,"n":118},{"c":2,"a":38,"n":118},{"c":3,"a":38,"n":118},{"c":4,"a":38,"n":354},{"c":5,"a":38,"n":590},{"c":6,"a":38,"n":826},{"c":7,"a":38,"n":1062},{"c":8,"a":38,"n":1298},{"c":9,"a":38,"n":1770},{"c":10,"a":38,"n":2006},{"c":11,"a":38,"n":2478},{"c":12,"a":38,"n":2950},{"c":13,"a":38,"n":3186},{"c":14,"a":38,"n":3422},{"c":15,"a":38,"n":3658},{"c":16,"a":38,"n":3894},{"c":17,"a":38,"n":3894},{"c":18,"a":38,"n":4366},{"c":19,"a":38,"n":4130},{"c":20,"a":38,"n":4130},{"c":21,"a":38,"n":3894},{"c":22,"a":38,"n":3658},{"c":23,"a":38,"n":3422},{"c":24,"a":38,"n":3186},{"c":25,"a":38,"n":2950},{"c":26,"a":38,"n":2478},{"c":27,"a":38,"n":2006},{"c":28,"a":38,"n":1770},{"c":29,"a":38,"n":1534},{"c":30,"a":38,"n":1062},{"c":31,"a":38,"n":826},{"c":32,"a":38,"n":354},{"c":33,"a":38,"n":118},{"c":34,"a":38,"n":118},{"c":35,"a":38,"n":118},
{"c":1,"a":37,"n":118},{"c":2,"a":37,"n":118},{"c":3,"a":37,"n":118},{"c":4,"a":37,"n":354},{"c":5,"a":37,"n":590},{"c":6,"a":37,"n":826},{"c":7,"a":37,"n":1062},{"c":8,"a":37,"n":1298},{"c":9,"a":37,"n":1770},{"c":10,"a":37,"n":2006},{"c":11,"a":37,"n":2242},{"c":12,"a":37,"n":2950},{"c":13,"a":37,"n":3186},{"c":14,"a":37,"n":3422},{"c":15,"a":37,"n":3658},{"c":16,"a":37,"n":4130},{"c":17,"a":37,"n":3894},{"c":18,"a":37,"n":4130},{"c":19,"a":37,"n":4366},{"c":20,"a":37,"n":4366},{"c":21,"a":37,"n":4130},{"c":22,"a":37,"n":3894},{"c":23,"a":37,"n":3422},{"c":24,"a":37,"n":3186},{"c":25,"a":37,"n":2950},{"c":26,"a":37,"n":2478},{"c":27,"a":37,"n":2006},{"c":28,"a":37,"n":1770},{"c":29,"a":37,"n":1534},{"c":30,"a":37,"n":1062},{"c":31,"a":37,"n":826},{"c":32,"a":37,"n":354},{"c":33,"a":37,"n":118},{"c":34,"a":37,"n":118},{"c":35,"a":37,"n":118},
{"c":1,"a":36,"n":118},{"c":2,"a":36,"n":118},{"c":3,"a":36,"n":118},{"c":4,"a":36,"n":354},{"c":5,"a":36,"n":590},{"c":6,"a":36,"n":826},{"c":7,"a":36,"n":1062},{"c":8,"a":36,"n":1298},{"c":9,"a":36,"n":1770},{"c":10,"a":36,"n":2006},{"c":11,"a":36,"n":2242},{"c":12,"a":36,"n":2950},{"c":13,"a":36,"n":3186},{"c":14,"a":36,"n":3422},{"c":15,"a":36,"n":3658},{"c":16,"a":36,"n":4130},{"c":17,"a":36,"n":3894},{"c":18,"a":36,"n":4130},{"c":19,"a":36,"n":4130},{"c":20,"a":36,"n":4130},{"c":21,"a":36,"n":3894},{"c":22,"a":36,"n":3658},{"c":23,"a":36,"n":3422},{"c":24,"a":36,"n":3186},{"c":25,"a":36,"n":2950},{"c":26,"a":36,"n":2478},{"c":27,"a":36,"n":2006},{"c":28,"a":36,"n":1770},{"c":29,"a":36,"n":1534},{"c":30,"a":36,"n":1062},{"c":31,"a":36,"n":826},{"c":32,"a":36,"n":354},{"c":33,"a":36,"n":118},{"c":34,"a":36,"n":118},{"c":35,"a":36,"n":118},
{"c":1,"a":35,"n":118},{"c":2,"a":35,"n":118},{"c":3,"a":35,"n":118},{"c":4,"a":35,"n":354},{"c":5,"a":35,"n":590},{"c":6,"a":35,"n":826},{"c":7,"a":35,"n":1062},{"c":8,"a":35,"n":1534},{"c":9,"a":35,"n":1770},{"c":10,"a":35,"n":2006},{"c":11,"a":35,"n":2478},{"c":12,"a":35,"n":2950},{"c":13,"a":35,"n":3186},{"c":14,"a":35,"n":3422},{"c":15,"a":35,"n":3658},{"c":16,"a":35,"n":3894},{"c":17,"a":35,"n":4130},{"c":18,"a":35,"n":4366},{"c":19,"a":35,"n":4130},{"c":20,"a":35,"n":4130},{"c":21,"a":35,"n":3894},{"c":22,"a":35,"n":3658},{"c":23,"a":35,"n":3422},{"c":24,"a":35,"n":3422},{"c":25,"a":35,"n":2950},{"c":26,"a":35,"n":2478},{"c":27,"a":35,"n":2242},{"c":28,"a":35,"n":1770},{"c":29,"a":35,"n":1534},{"c":30,"a":35,"n":1062},{"c":31,"a":35,"n":826},{"c":32,"a":35,"n":354},{"c":33,"a":35,"n":118},{"c":34,"a":35,"n":118},{"c":35,"a":35,"n":118},
{"c":1,"a":34,"n":118},{"c":2,"a":34,"n":118},{"c":3,"a":34,"n":118},{"c":4,"a":34,"n":354},{"c":5,"a":34,"n":590},{"c":6,"a":34,"n":826},{"c":7,"a":34,"n":1062},{"c":8,"a":34,"n":1534},{"c":9,"a":34,"n":1770},{"c":10,"a":34,"n":2006},{"c":11,"a":34,"n":2478},{"c":12,"a":34,"n":2950},{"c":13,"a":34,"n":3186},{"c":14,"a":34,"n":3422},{"c":15,"a":34,"n":3422},{"c":16,"a":34,"n":3894},{"c":17,"a":34,"n":3894},{"c":18,"a":34,"n":4130},{"c":19,"a":34,"n":3894},{"c":20,"a":34,"n":3894},{"c":21,"a":34,"n":3894},{"c":22,"a":34,"n":3658},{"c":23,"a":34,"n":3422},{"c":24,"a":34,"n":3186},{"c":25,"a":34,"n":2950},{"c":26,"a":34,"n":2478},{"c":27,"a":34,"n":2242},{"c":28,"a":34,"n":1770},{"c":29,"a":34,"n":1534},{"c":30,"a":34,"n":1062},{"c":31,"a":34,"n":826},{"c":32,"a":34,"n":354},{"c":33,"a":34,"n":118},{"c":34,"a":34,"n":118},{"c":35,"a":34,"n":118},
{"c":1,"a":33,"n":118},{"c":2,"a":33,"n":118},{"c":3,"a":33,"n":118},{"c":4,"a":33,"n":354},{"c":5,"a":33,"n":590},{"c":6,"a":33,"n":826},{"c":7,"a":33,"n":1062},{"c":8,"a":33,"n":1534},{"c":9,"a":33,"n":1770},{"c":10,"a":33,"n":2242},{"c":11,"a":33,"n":2478},{"c":12,"a":33,"n":2950},{"c":13,"a":33,"n":3186},{"c":14,"a":33,"n":3422},{"c":15,"a":33,"n":3658},{"c":16,"a":33,"n":3894},{"c":17,"a":33,"n":3894},{"c":18,"a":33,"n":4130},{"c":19,"a":33,"n":3894},{"c":20,"a":33,"n":3894},{"c":21,"a":33,"n":3894},{"c":22,"a":33,"n":3658},{"c":23,"a":33,"n":3422},{"c":24,"a":33,"n":3186},{"c":25,"a":33,"n":2950},{"c":26,"a":33,"n":2714},{"c":27,"a":33,"n":2242},{"c":28,"a":33,"n":1770},{"c":29,"a":33,"n":1534},{"c":30,"a":33,"n":1062},{"c":31,"a":33,"n":826},{"c":32,"a":33,"n":354},{"c":33,"a":33,"n":118},{"c":34,"a":33,"n":118},{"c":35,"a":33,"n":118},
{"c":1,"a":32,"n":118},{"c":2,"a":32,"n":118},{"c":3,"a":32,"n":118},{"c":4,"a":32,"n":354},{"c":5,"a":32,"n":590},{"c":6,"a":32,"n":826},{"c":7,"a":32,"n":1062},{"c":8,"a":32,"n":1534},{"c":9,"a":32,"n":1770},{"c":10,"a":32,"n":2006},{"c":11,"a":32,"n":2478},{"c":12,"a":32,"n":2950},{"c":13,"a":32,"n":3186},{"c":14,"a":32,"n":3186},{"c":15,"a":32,"n":3658},{"c":16,"a":32,"n":3894},{"c":17,"a":32,"n":3894},{"c":18,"a":32,"n":4366},{"c":19,"a":32,"n":3894},{"c":20,"a":32,"n":3894},{"c":21,"a":32,"n":3894},{"c":22,"a":32,"n":3658},{"c":23,"a":32,"n":3422},{"c":24,"a":32,"n":3186},{"c":25,"a":32,"n":2950},{"c":26,"a":32,"n":2714},{"c":27,"a":32,"n":2242},{"c":28,"a":32,"n":1770},{"c":29,"a":32,"n":1534},{"c":30,"a":32,"n":1062},{"c":31,"a":32,"n":590},{"c":32,"a":32,"n":354},{"c":33,"a":32,"n":118},{"c":34,"a":32,"n":118},{"c":35,"a":32,"n":118},
{"c":1,"a":31,"n":118},{"c":2,"a":31,"n":118},{"c":3,"a":31,"n":118},{"c":4,"a":31,"n":354},{"c":5,"a":31,"n":590},{"c":6,"a":31,"n":826},{"c":7,"a":31,"n":1062},{"c":8,"a":31,"n":1534},{"c":9,"a":31,"n":1770},{"c":10,"a":31,"n":2006},{"c":11,"a":31,"n":2478},{"c":12,"a":31,"n":2950},{"c":13,"a":31,"n":2950},{"c":14,"a":31,"n":3186},{"c":15,"a":31,"n":3422},{"c":16,"a":31,"n":3658},{"c":17,"a":31,"n":3894},{"c":18,"a":31,"n":4130},{"c":19,"a":31,"n":3894},{"c":20,"a":31,"n":3658},{"c":21,"a":31,"n":3658},{"c":22,"a":31,"n":3422},{"c":23,"a":31,"n":3422},{"c":24,"a":31,"n":3186},{"c":25,"a":31,"n":2950},{"c":26,"a":31,"n":2478},{"c":27,"a":31,"n":2242},{"c":28,"a":31,"n":1770},{"c":29,"a":31,"n":1534},{"c":30,"a":31,"n":1062},{"c":31,"a":31,"n":590},{"c":32,"a":31,"n":590},{"c":33,"a":31,"n":118},{"c":34,"a":31,"n":118},{"c":35,"a":31,"n":118},
{"c":1,"a":30,"n":118},{"c":2,"a":30,"n":118},{"c":3,"a":30,"n":118},{"c":4,"a":30,"n":354},{"c":5,"a":30,"n":590},{"c":6,"a":30,"n":826},{"c":7,"a":30,"n":1062},{"c":8,"a":30,"n":1534},{"c":9,"a":30,"n":1770},{"c":10,"a":30,"n":2006},{"c":11,"a":30,"n":2478},{"c":12,"a":30,"n":2478},{"c":13,"a":30,"n":2950},{"c":14,"a":30,"n":3186},{"c":15,"a":30,"n":3422},{"c":16,"a":30,"n":3658},{"c":17,"a":30,"n":3658},{"c":18,"a":30,"n":3894},{"c":19,"a":30,"n":3658},{"c":20,"a":30,"n":3658},{"c":21,"a":30,"n":3658},{"c":22,"a":30,"n":3422},{"c":23,"a":30,"n":3422},{"c":24,"a":30,"n":3186},{"c":25,"a":30,"n":2950},{"c":26,"a":30,"n":2714},{"c":27,"a":30,"n":2242},{"c":28,"a":30,"n":1770},{"c":29,"a":30,"n":1534},{"c":30,"a":30,"n":1062},{"c":31,"a":30,"n":590},{"c":32,"a":30,"n":590},{"c":33,"a":30,"n":118},{"c":34,"a":30,"n":118},{"c":35,"a":30,"n":118},
{"c":1,"a":29,"n":118},{"c":2,"a":29,"n":118},{"c":3,"a":29,"n":118},{"c":4,"a":29,"n":354},{"c":5,"a":29,"n":590},{"c":6,"a":29,"n":826},{"c":7,"a":29,"n":1062},{"c":8,"a":29,"n":1298},{"c":9,"a":29,"n":1534},{"c":10,"a":29,"n":1770},{"c":11,"a":29,"n":2242},{"c":12,"a":29,"n":2478},{"c":13,"a":29,"n":2950},{"c":14,"a":29,"n":3186},{"c":15,"a":29,"n":3422},{"c":16,"a":29,"n":3658},{"c":17,"a":29,"n":3658},{"c":18,"a":29,"n":3658},{"c":19,"a":29,"n":3658},{"c":20,"a":29,"n":3658},{"c":21,"a":29,"n":3658},{"c":22,"a":29,"n":3422},{"c":23,"a":29,"n":3422},{"c":24,"a":29,"n":3186},{"c":25,"a":29,"n":2714},{"c":26,"a":29,"n":2478},{"c":27,"a":29,"n":2006},{"c":28,"a":29,"n":1770},{"c":29,"a":29,"n":1534},{"c":30,"a":29,"n":1062},{"c":31,"a":29,"n":590},{"c":32,"a":29,"n":590},{"c":33,"a":29,"n":118},{"c":34,"a":29,"n":118},{"c":35,"a":29,"n":118},
{"c":1,"a":28,"n":118},{"c":2,"a":28,"n":118},{"c":3,"a":28,"n":118},{"c":4,"a":28,"n":354},{"c":5,"a":28,"n":590},{"c":6,"a":28,"n":826},{"c":7,"a":28,"n":1062},{"c":8,"a":28,"n":1298},{"c":9,"a":28,"n":1534},{"c":10,"a":28,"n":1770},{"c":11,"a":28,"n":2006},{"c":12,"a":28,"n":2478},{"c":13,"a":28,"n":2714},{"c":14,"a":28,"n":2950},{"c":15,"a":28,"n":3186},{"c":16,"a":28,"n":3422},{"c":17,"a":28,"n":3658},{"c":18,"a":28,"n":3658},{"c":19,"a":28,"n":3658},{"c":20,"a":28,"n":3658},{"c":21,"a":28,"n":3422},{"c":22,"a":28,"n":3422},{"c":23,"a":28,"n":3186},{"c":24,"a":28,"n":2950},{"c":25,"a":28,"n":2714},{"c":26,"a":28,"n":2478},{"c":27,"a":28,"n":2006},{"c":28,"a":28,"n":1770},{"c":29,"a":28,"n":1534},{"c":30,"a":28,"n":1062},{"c":31,"a":28,"n":826},{"c":32,"a":28,"n":590},{"c":33,"a":28,"n":118},{"c":34,"a":28,"n":118},{"c":35,"a":28,"n":118},
{"c":1,"a":27,"n":118},{"c":2,"a":27,"n":118},{"c":3,"a":27,"n":118},{"c":4,"a":27,"n":354},{"c":5,"a":27,"n":590},{"c":6,"a":27,"n":826},{"c":7,"a":27,"n":1062},{"c":8,"a":27,"n":1298},{"c":9,"a":27,"n":1534},{"c":10,"a":27,"n":1770},{"c":11,"a":27,"n":2006},{"c":12,"a":27,"n":2242},{"c":13,"a":27,"n":2714},{"c":14,"a":27,"n":2714},{"c":15,"a":27,"n":2950},{"c":16,"a":27,"n":3186},{"c":17,"a":27,"n":3422},{"c":18,"a":27,"n":3658},{"c":19,"a":27,"n":3658},{"c":20,"a":27,"n":3422},{"c":21,"a":27,"n":3186},{"c":22,"a":27,"n":3186},{"c":23,"a":27,"n":2950},{"c":24,"a":27,"n":2714},{"c":25,"a":27,"n":2478},{"c":26,"a":27,"n":2006},{"c":27,"a":27,"n":1770},{"c":28,"a":27,"n":1534},{"c":29,"a":27,"n":1534},{"c":30,"a":27,"n":1062},{"c":31,"a":27,"n":826},{"c":32,"a":27,"n":590},{"c":33,"a":27,"n":354},{"c":34,"a":27,"n":118},{"c":35,"a":27,"n":118},
{"c":1,"a":26,"n":118},{"c":2,"a":26,"n":118},{"c":3,"a":26,"n":118},{"c":4,"a":26,"n":354},{"c":5,"a":26,"n":590},{"c":6,"a":26,"n":826},{"c":7,"a":26,"n":1062},{"c":8,"a":26,"n":1298},{"c":9,"a":26,"n":1534},{"c":10,"a":26,"n":1770},{"c":11,"a":26,"n":2006},{"c":12,"a":26,"n":2478},{"c":13,"a":26,"n":2478},{"c":14,"a":26,"n":2714},{"c":15,"a":26,"n":2950},{"c":16,"a":26,"n":3186},{"c":17,"a":26,"n":3422},{"c":18,"a":26,"n":3422},{"c":19,"a":26,"n":3422},{"c":20,"a":26,"n":3422},{"c":21,"a":26,"n":3186},{"c":22,"a":26,"n":3186},{"c":23,"a":26,"n":2950},{"c":24,"a":26,"n":2714},{"c":25,"a":26,"n":2478},{"c":26,"a":26,"n":2242},{"c":27,"a":26,"n":1770},{"c":28,"a":26,"n":1534},{"c":29,"a":26,"n":1298},{"c":30,"a":26,"n":1062},{"c":31,"a":26,"n":826},{"c":32,"a":26,"n":590},{"c":33,"a":26,"n":354},{"c":34,"a":26,"n":118},{"c":35,"a":26,"n":118},
{"c":1,"a":25,"n":118},{"c":2,"a":25,"n":118},{"c":3,"a":25,"n":118},{"c":4,"a":25,"n":354},{"c":5,"a":25,"n":590},{"c":6,"a":25,"n":826},{"c":7,"a":25,"n":1062},{"c":8,"a":25,"n":1298},{"c":9,"a":25,"n":1534},{"c":10,"a":25,"n":2006},{"c":11,"a":25,"n":2006},{"c":12,"a":25,"n":2242},{"c":13,"a":25,"n":2478},{"c":14,"a":25,"n":2714},{"c":15,"a":25,"n":2950},{"c":16,"a":25,"n":3186},{"c":17,"a":25,"n":3422},{"c":18,"a":25,"n":3422},{"c":19,"a":25,"n":3186},{"c":20,"a":25,"n":3186},{"c":21,"a":25,"n":2950},{"c":22,"a":25,"n":2950},{"c":23,"a":25,"n":2714},{"c":24,"a":25,"n":2478},{"c":25,"a":25,"n":2242},{"c":26,"a":25,"n":2006},{"c":27,"a":25,"n":1770},{"c":28,"a":25,"n":1534},{"c":29,"a":25,"n":1298},{"c":30,"a":25,"n":1062},{"c":31,"a":25,"n":590},{"c":32,"a":25,"n":590},{"c":33,"a":25,"n":354},{"c":34,"a":25,"n":118},{"c":35,"a":25,"n":118},
{"c":1,"a":24,"n":118},{"c":2,"a":24,"n":118},{"c":3,"a":24,"n":118},{"c":4,"a":24,"n":354},{"c":5,"a":24,"n":590},{"c":6,"a":24,"n":826},{"c":7,"a":24,"n":1062},{"c":8,"a":24,"n":1298},{"c":9,"a":24,"n":1534},{"c":10,"a":24,"n":2006},{"c":11,"a":24,"n":2006},{"c":12,"a":24,"n":2242},{"c":13,"a":24,"n":2242},{"c":14,"a":24,"n":2714},{"c":15,"a":24,"n":2950},{"c":16,"a":24,"n":3186},{"c":17,"a":24,"n":3186},{"c":18,"a":24,"n":3422},{"c":19,"a":24,"n":3186},{"c":20,"a":24,"n":3186},{"c":21,"a":24,"n":2950},{"c":22,"a":24,"n":2950},{"c":23,"a":24,"n":2714},{"c":24,"a":24,"n":2478},{"c":25,"a":24,"n":2242},{"c":26,"a":24,"n":2006},{"c":27,"a":24,"n":1770},{"c":28,"a":24,"n":1534},{"c":29,"a":24,"n":1298},{"c":30,"a":24,"n":1062},{"c":31,"a":24,"n":590},{"c":32,"a":24,"n":590},{"c":33,"a":24,"n":354},{"c":34,"a":24,"n":118},{"c":35,"a":24,"n":118},
{"c":1,"a":23,"n":118},{"c":2,"a":23,"n":118},{"c":3,"a":23,"n":118},{"c":4,"a":23,"n":354},{"c":5,"a":23,"n":590},{"c":6,"a":23,"n":590},{"c":7,"a":23,"n":590},{"c":8,"a":23,"n":1062},{"c":9,"a":23,"n":1298},{"c":10,"a":23,"n":1534},{"c":11,"a":23,"n":1770},{"c":12,"a":23,"n":2242},{"c":13,"a":23,"n":2242},{"c":14,"a":23,"n":2478},{"c":15,"a":23,"n":2714},{"c":16,"a":23,"n":2950},{"c":17,"a":23,"n":2950},{"c":18,"a":23,"n":2950},{"c":19,"a":23,"n":3186},{"c":20,"a":23,"n":2950},{"c":21,"a":23,"n":2714},{"c":22,"a":23,"n":2714},{"c":23,"a":23,"n":2478},{"c":24,"a":23,"n":2242},{"c":25,"a":23,"n":2242},{"c":26,"a":23,"n":2006},{"c":27,"a":23,"n":1770},{"c":28,"a":23,"n":1534},{"c":29,"a":23,"n":1298},{"c":30,"a":23,"n":826},{"c":31,"a":23,"n":590},{"c":32,"a":23,"n":590},{"c":33,"a":23,"n":354},{"c":34,"a":23,"n":118},{"c":35,"a":23,"n":118},
{"c":1,"a":22,"n":118},{"c":2,"a":22,"n":118},{"c":3,"a":22,"n":118},{"c":4,"a":22,"n":354},{"c":5,"a":22,"n":590},{"c":6,"a":22,"n":590},{"c":7,"a":22,"n":826},{"c":8,"a":22,"n":1062},{"c":9,"a":22,"n":1298},{"c":10,"a":22,"n":1534},{"c":11,"a":22,"n":2006},{"c":12,"a":22,"n":2242},{"c":13,"a":22,"n":2242},{"c":14,"a":22,"n":2478},{"c":15,"a":22,"n":2714},{"c":16,"a":22,"n":2950},{"c":17,"a":22,"n":2950},{"c":18,"a":22,"n":2950},{"c":19,"a":22,"n":2950},{"c":20,"a":22,"n":2950},{"c":21,"a":22,"n":2714},{"c":22,"a":22,"n":2478},{"c":23,"a":22,"n":2478},{"c":24,"a":22,"n":2242},{"c":25,"a":22,"n":2242},{"c":26,"a":22,"n":2006},{"c":27,"a":22,"n":1770},{"c":28,"a":22,"n":1534},{"c":29,"a":22,"n":1298},{"c":30,"a":22,"n":826},{"c":31,"a":22,"n":590},{"c":32,"a":22,"n":590},{"c":33,"a":22,"n":354},{"c":34,"a":22,"n":118},{"c":35,"a":22,"n":118},
{"c":1,"a":21,"n":118},{"c":2,"a":21,"n":118},{"c":3,"a":21,"n":118},{"c":4,"a":21,"n":354},{"c":5,"a":21,"n":590},{"c":6,"a":21,"n":590},{"c":7,"a":21,"n":826},{"c":8,"a":21,"n":1062},{"c":9,"a":21,"n":1298},{"c":10,"a":21,"n":1534},{"c":11,"a":21,"n":1770},{"c":12,"a":21,"n":2006},{"c":13,"a":21,"n":2242},{"c":14,"a":21,"n":2242},{"c":15,"a":21,"n":2478},{"c":16,"a":21,"n":2714},{"c":17,"a":21,"n":2950},{"c":18,"a":21,"n":2950},{"c":19,"a":21,"n":2714},{"c":20,"a":21,"n":2950},{"c":21,"a":21,"n":2714},{"c":22,"a":21,"n":2714},{"c":23,"a":21,"n":2478},{"c":24,"a":21,"n":2242},{"c":25,"a":21,"n":2006},{"c":26,"a":21,"n":2006},{"c":27,"a":21,"n":1770},{"c":28,"a":21,"n":1534},{"c":29,"a":21,"n":1062},{"c":30,"a":21,"n":826},{"c":31,"a":21,"n":590},{"c":32,"a":21,"n":590},{"c":33,"a":21,"n":354},{"c":34,"a":21,"n":118},{"c":35,"a":21,"n":118},
{"c":1,"a":20,"n":118},{"c":2,"a":20,"n":118},{"c":3,"a":20,"n":118},{"c":4,"a":20,"n":354},{"c":5,"a":20,"n":590},{"c":6,"a":20,"n":590},{"c":7,"a":20,"n":826},{"c":8,"a":20,"n":1062},{"c":9,"a":20,"n":1298},{"c":10,"a":20,"n":1534},{"c":11,"a":20,"n":1770},{"c":12,"a":20,"n":2006},{"c":13,"a":20,"n":2242},{"c":14,"a":20,"n":2242},{"c":15,"a":20,"n":2478},{"c":16,"a":20,"n":2714},{"c":17,"a":20,"n":2714},{"c":18,"a":20,"n":2714},{"c":19,"a":20,"n":2714},{"c":20,"a":20,"n":2950},{"c":21,"a":20,"n":2714},{"c":22,"a":20,"n":2478},{"c":23,"a":20,"n":2478},{"c":24,"a":20,"n":2242},{"c":25,"a":20,"n":2006},{"c":26,"a":20,"n":2006},{"c":27,"a":20,"n":1770},{"c":28,"a":20,"n":1534},{"c":29,"a":20,"n":1062},{"c":30,"a":20,"n":826},{"c":31,"a":20,"n":590},{"c":32,"a":20,"n":590},{"c":33,"a":20,"n":354},{"c":34,"a":20,"n":118},{"c":35,"a":20,"n":118},
{"c":1,"a":19,"n":118},{"c":2,"a":19,"n":118},{"c":3,"a":19,"n":118},{"c":4,"a":19,"n":354},{"c":5,"a":19,"n":590},{"c":6,"a":19,"n":590},{"c":7,"a":19,"n":826},{"c":8,"a":19,"n":1062},{"c":9,"a":19,"n":1062},{"c":10,"a":19,"n":1534},{"c":11,"a":19,"n":1770},{"c":12,"a":19,"n":2006},{"c":13,"a":19,"n":2242},{"c":14,"a":19,"n":2242},{"c":15,"a":19,"n":2242},{"c":16,"a":19,"n":2478},{"c":17,"a":19,"n":2478},{"c":18,"a":19,"n":2714},{"c":19,"a":19,"n":2478},{"c":20,"a":19,"n":2478},{"c":21,"a":19,"n":2478},{"c":22,"a":19,"n":2478},{"c":23,"a":19,"n":2242},{"c":24,"a":19,"n":2242},{"c":25,"a":19,"n":2006},{"c":26,"a":19,"n":1770},{"c":27,"a":19,"n":1534},{"c":28,"a":19,"n":1534},{"c":29,"a":19,"n":1062},{"c":30,"a":19,"n":590},{"c":31,"a":19,"n":590},{"c":32,"a":19,"n":590},{"c":33,"a":19,"n":354},{"c":34,"a":19,"n":118},{"c":35,"a":19,"n":118},
{"c":1,"a":18,"n":118},{"c":2,"a":18,"n":118},{"c":3,"a":18,"n":118},{"c":4,"a":18,"n":354},{"c":5,"a":18,"n":590},{"c":6,"a":18,"n":590},{"c":7,"a":18,"n":826},{"c":8,"a":18,"n":1062},{"c":9,"a":18,"n":1062},{"c":10,"a":18,"n":1534},{"c":11,"a":18,"n":1770},{"c":12,"a":18,"n":2006},{"c":13,"a":18,"n":2242},{"c":14,"a":18,"n":2242},{"c":15,"a":18,"n":2242},{"c":16,"a":18,"n":2478},{"c":17,"a":18,"n":2478},{"c":18,"a":18,"n":2478},{"c":19,"a":18,"n":2242},{"c":20,"a":18,"n":2478},{"c":21,"a":18,"n":2478},{"c":22,"a":18,"n":2478},{"c":23,"a":18,"n":2242},{"c":24,"a":18,"n":2242},{"c":25,"a":18,"n":2006},{"c":26,"a":18,"n":1770},{"c":27,"a":18,"n":1534},{"c":28,"a":18,"n":1534},{"c":29,"a":18,"n":1062},{"c":30,"a":18,"n":590},{"c":31,"a":18,"n":590},{"c":32,"a":18,"n":590},{"c":33,"a":18,"n":354},{"c":34,"a":18,"n":118},{"c":35,"a":18,"n":118},
{"c":1,"a":17,"n":118},{"c":2,"a":17,"n":118},{"c":3,"a":17,"n":118},{"c":4,"a":17,"n":354},{"c":5,"a":17,"n":590},{"c":6,"a":17,"n":590},{"c":7,"a":17,"n":590},{"c":8,"a":17,"n":826},{"c":9,"a":17,"n":1062},{"c":10,"a":17,"n":1298},{"c":11,"a":17,"n":1534},{"c":12,"a":17,"n":2006},{"c":13,"a":17,"n":1770},{"c":14,"a":17,"n":2006},{"c":15,"a":17,"n":2242},{"c":16,"a":17,"n":2478},{"c":17,"a":17,"n":2242},{"c":18,"a":17,"n":2242},{"c":19,"a":17,"n":2242},{"c":20,"a":17,"n":2478},{"c":21,"a":17,"n":2242},{"c":22,"a":17,"n":2242},{"c":23,"a":17,"n":2006},{"c":24,"a":17,"n":2006},{"c":25,"a":17,"n":1770},{"c":26,"a":17,"n":1770},{"c":27,"a":17,"n":1534},{"c":28,"a":17,"n":1534},{"c":29,"a":17,"n":1062},{"c":30,"a":17,"n":590},{"c":31,"a":17,"n":590},{"c":32,"a":17,"n":590},{"c":33,"a":17,"n":354},{"c":34,"a":17,"n":118},{"c":35,"a":17,"n":118},
{"c":1,"a":16,"n":118},{"c":2,"a":16,"n":118},{"c":3,"a":16,"n":118},{"c":4,"a":16,"n":354},{"c":5,"a":16,"n":590},{"c":6,"a":16,"n":590},{"c":7,"a":16,"n":590},{"c":8,"a":16,"n":826},{"c":9,"a":16,"n":1062},{"c":10,"a":16,"n":1298},{"c":11,"a":16,"n":1534},{"c":12,"a":16,"n":1770},{"c":13,"a":16,"n":2006},{"c":14,"a":16,"n":2006},{"c":15,"a":16,"n":2242},{"c":16,"a":16,"n":2242},{"c":17,"a":16,"n":2242},{"c":18,"a":16,"n":2242},{"c":19,"a":16,"n":2242},{"c":20,"a":16,"n":2242},{"c":21,"a":16,"n":2242},{"c":22,"a":16,"n":2242},{"c":23,"a":16,"n":2006},{"c":24,"a":16,"n":2006},{"c":25,"a":16,"n":1770},{"c":26,"a":16,"n":1770},{"c":27,"a":16,"n":1534},{"c":28,"a":16,"n":1298},{"c":29,"a":16,"n":1062},{"c":30,"a":16,"n":590},{"c":31,"a":16,"n":590},{"c":32,"a":16,"n":590},{"c":33,"a":16,"n":354},{"c":34,"a":16,"n":118},{"c":35,"a":16,"n":118},
{"c":1,"a":15,"n":118},{"c":2,"a":15,"n":118},{"c":3,"a":15,"n":354},{"c":4,"a":15,"n":590},{"c":5,"a":15,"n":590},{"c":6,"a":15,"n":590},{"c":7,"a":15,"n":590},{"c":8,"a":15,"n":826},{"c":9,"a":15,"n":1062},{"c":10,"a":15,"n":1534},{"c":11,"a":15,"n":1534},{"c":12,"a":15,"n":1770},{"c":13,"a":15,"n":1770},{"c":14,"a":15,"n":2006},{"c":15,"a":15,"n":2006},{"c":16,"a":15,"n":2006},{"c":17,"a":15,"n":2006},{"c":18,"a":15,"n":2006},{"c":19,"a":15,"n":1770},{"c":20,"a":15,"n":2006},{"c":21,"a":15,"n":2006},{"c":22,"a":15,"n":2006},{"c":23,"a":15,"n":1770},{"c":24,"a":15,"n":1770},{"c":25,"a":15,"n":1534},{"c":26,"a":15,"n":1534},{"c":27,"a":15,"n":1534},{"c":28,"a":15,"n":1298},{"c":29,"a":15,"n":826},{"c":30,"a":15,"n":590},{"c":31,"a":15,"n":590},{"c":32,"a":15,"n":590},{"c":33,"a":15,"n":354},{"c":34,"a":15,"n":118},{"c":35,"a":15,"n":118},
{"c":1,"a":14,"n":118},{"c":2,"a":14,"n":118},{"c":3,"a":14,"n":354},{"c":4,"a":14,"n":590},{"c":5,"a":14,"n":590},{"c":6,"a":14,"n":590},{"c":7,"a":14,"n":590},{"c":8,"a":14,"n":590},{"c":9,"a":14,"n":826},{"c":10,"a":14,"n":1298},{"c":11,"a":14,"n":1534},{"c":12,"a":14,"n":1770},{"c":13,"a":14,"n":1534},{"c":14,"a":14,"n":1770},{"c":15,"a":14,"n":2006},{"c":16,"a":14,"n":2006},{"c":17,"a":14,"n":1534},{"c":18,"a":14,"n":2006},{"c":19,"a":14,"n":1770},{"c":20,"a":14,"n":2006},{"c":21,"a":14,"n":2006},{"c":22,"a":14,"n":2006},{"c":23,"a":14,"n":1770},{"c":24,"a":14,"n":1770},{"c":25,"a":14,"n":1534},{"c":26,"a":14,"n":1534},{"c":27,"a":14,"n":1534},{"c":28,"a":14,"n":1298},{"c":29,"a":14,"n":826},{"c":30,"a":14,"n":590},{"c":31,"a":14,"n":590},{"c":32,"a":14,"n":590},{"c":33,"a":14,"n":354},{"c":34,"a":14,"n":118},{"c":35,"a":14,"n":118},
{"c":1,"a":13,"n":118},{"c":2,"a":13,"n":118},{"c":3,"a":13,"n":118},{"c":4,"a":13,"n":354},{"c":5,"a":13,"n":590},{"c":6,"a":13,"n":590},{"c":7,"a":13,"n":590},{"c":8,"a":13,"n":590},{"c":9,"a":13,"n":1062},{"c":10,"a":13,"n":1062},{"c":11,"a":13,"n":1298},{"c":12,"a":13,"n":1770},{"c":13,"a":13,"n":1534},{"c":14,"a":13,"n":1770},{"c":15,"a":13,"n":1770},{"c":16,"a":13,"n":1770},{"c":17,"a":13,"n":1770},{"c":18,"a":13,"n":1770},{"c":19,"a":13,"n":1534},{"c":20,"a":13,"n":2006},{"c":21,"a":13,"n":1770},{"c":22,"a":13,"n":1534},{"c":23,"a":13,"n":1534},{"c":24,"a":13,"n":1534},{"c":25,"a":13,"n":1534},{"c":26,"a":13,"n":1534},{"c":27,"a":13,"n":1298},{"c":28,"a":13,"n":1062},{"c":29,"a":13,"n":826},{"c":30,"a":13,"n":590},{"c":31,"a":13,"n":590},{"c":32,"a":13,"n":590},{"c":33,"a":13,"n":354},{"c":34,"a":13,"n":118},{"c":35,"a":13,"n":118},
{"c":1,"a":12,"n":118},{"c":2,"a":12,"n":118},{"c":3,"a":12,"n":118},{"c":4,"a":12,"n":354},{"c":5,"a":12,"n":590},{"c":6,"a":12,"n":590},{"c":7,"a":12,"n":590},{"c":8,"a":12,"n":590},{"c":9,"a":12,"n":826},{"c":10,"a":12,"n":1062},{"c":11,"a":12,"n":1298},{"c":12,"a":12,"n":1534},{"c":13,"a":12,"n":1298},{"c":14,"a":12,"n":1534},{"c":15,"a":12,"n":1534},{"c":16,"a":12,"n":1534},{"c":17,"a":12,"n":1534},{"c":18,"a":12,"n":1770},{"c":19,"a":12,"n":1534},{"c":20,"a":12,"n":2006},{"c":21,"a":12,"n":1770},{"c":22,"a":12,"n":1534},{"c":23,"a":12,"n":1534},{"c":24,"a":12,"n":1534},{"c":25,"a":12,"n":1534},{"c":26,"a":12,"n":1534},{"c":27,"a":12,"n":1298},{"c":28,"a":12,"n":1062},{"c":29,"a":12,"n":826},{"c":30,"a":12,"n":590},{"c":31,"a":12,"n":590},{"c":32,"a":12,"n":590},{"c":33,"a":12,"n":354},{"c":34,"a":12,"n":118},{"c":35,"a":12,"n":118},
{"c":1,"a":11,"n":118},{"c":2,"a":11,"n":118},{"c":3,"a":11,"n":118},{"c":4,"a":11,"n":354},{"c":5,"a":11,"n":590},{"c":6,"a":11,"n":590},{"c":7,"a":11,"n":590},{"c":8,"a":11,"n":590},{"c":9,"a":11,"n":826},{"c":10,"a":11,"n":826},{"c":11,"a":11,"n":1062},{"c":12,"a":11,"n":1534},{"c":13,"a":11,"n":1534},{"c":14,"a":11,"n":1298},{"c":15,"a":11,"n":1534},{"c":16,"a":11,"n":1534},{"c":17,"a":11,"n":1534},{"c":18,"a":11,"n":1534},{"c":19,"a":11,"n":1534},{"c":20,"a":11,"n":1534},{"c":21,"a":11,"n":1770},{"c":22,"a":11,"n":1770},{"c":23,"a":11,"n":1534},{"c":24,"a":11,"n":1534},{"c":25,"a":11,"n":1534},{"c":26,"a":11,"n":1534},{"c":27,"a":11,"n":1298},{"c":28,"a":11,"n":1062},{"c":29,"a":11,"n":590},{"c":30,"a":11,"n":590},{"c":31,"a":11,"n":590},{"c":32,"a":11,"n":590},{"c":33,"a":11,"n":354},{"c":34,"a":11,"n":118},{"c":35,"a":11,"n":118},
{"c":1,"a":10,"n":118},{"c":2,"a":10,"n":118},{"c":3,"a":10,"n":118},{"c":4,"a":10,"n":354},{"c":5,"a":10,"n":590},{"c":6,"a":10,"n":590},{"c":7,"a":10,"n":590},{"c":8,"a":10,"n":590},{"c":9,"a":10,"n":826},{"c":10,"a":10,"n":826},{"c":11,"a":10,"n":1062},{"c":12,"a":10,"n":1298},{"c":13,"a":10,"n":1062},{"c":14,"a":10,"n":1298},{"c":15,"a":10,"n":1534},{"c":16,"a":10,"n":1534},{"c":17,"a":10,"n":1534},{"c":18,"a":10,"n":1534},{"c":19,"a":10,"n":1534},{"c":20,"a":10,"n":1534},{"c":21,"a":10,"n":1534},{"c":22,"a":10,"n":1534},{"c":23,"a":10,"n":1534},{"c":24,"a":10,"n":1534},{"c":25,"a":10,"n":1298},{"c":26,"a":10,"n":1298},{"c":27,"a":10,"n":1062},{"c":28,"a":10,"n":826},{"c":29,"a":10,"n":590},{"c":30,"a":10,"n":590},{"c":31,"a":10,"n":590},{"c":32,"a":10,"n":354},{"c":33,"a":10,"n":354},{"c":34,"a":10,"n":118},{"c":35,"a":10,"n":118},
{"c":1,"a":9,"n":118},{"c":2,"a":9,"n":118},{"c":3,"a":9,"n":118},{"c":4,"a":9,"n":354},{"c":5,"a":9,"n":590},{"c":6,"a":9,"n":590},{"c":7,"a":9,"n":590},{"c":8,"a":9,"n":590},{"c":9,"a":9,"n":826},{"c":10,"a":9,"n":826},{"c":11,"a":9,"n":1062},{"c":12,"a":9,"n":1534},{"c":13,"a":9,"n":1062},{"c":14,"a":9,"n":1298},{"c":15,"a":9,"n":1534},{"c":16,"a":9,"n":1534},{"c":17,"a":9,"n":1534},{"c":18,"a":9,"n":1534},{"c":19,"a":9,"n":1534},{"c":20,"a":9,"n":1534},{"c":21,"a":9,"n":1534},{"c":22,"a":9,"n":1534},{"c":23,"a":9,"n":1534},{"c":24,"a":9,"n":1534},{"c":25,"a":9,"n":1298},{"c":26,"a":9,"n":1298},{"c":27,"a":9,"n":1062},{"c":28,"a":9,"n":826},{"c":29,"a":9,"n":590},{"c":30,"a":9,"n":590},{"c":31,"a":9,"n":590},{"c":32,"a":9,"n":354},{"c":33,"a":9,"n":354},{"c":34,"a":9,"n":118},{"c":35,"a":9,"n":118},
{"c":1,"a":8,"n":118},{"c":2,"a":8,"n":118},{"c":3,"a":8,"n":118},{"c":4,"a":8,"n":118},{"c":5,"a":8,"n":354},{"c":6,"a":8,"n":590},{"c":7,"a":8,"n":590},{"c":8,"a":8,"n":590},{"c":9,"a":8,"n":590},{"c":10,"a":8,"n":1062},{"c":11,"a":8,"n":1062},{"c":12,"a":8,"n":1298},{"c":13,"a":8,"n":826},{"c":14,"a":8,"n":1534},{"c":15,"a":8,"n":1534},{"c":16,"a":8,"n":1534},{"c":17,"a":8,"n":1298},{"c":18,"a":8,"n":1298},{"c":19,"a":8,"n":1534},{"c":20,"a":8,"n":1534},{"c":21,"a":8,"n":1534},{"c":22,"a":8,"n":1534},{"c":23,"a":8,"n":1298},{"c":24,"a":8,"n":1298},{"c":25,"a":8,"n":1062},{"c":26,"a":8,"n":1062},{"c":27,"a":8,"n":826},{"c":28,"a":8,"n":590},{"c":29,"a":8,"n":590},{"c":30,"a":8,"n":590},{"c":31,"a":8,"n":354},{"c":32,"a":8,"n":354},{"c":33,"a":8,"n":118},{"c":34,"a":8,"n":118},{"c":35,"a":8,"n":118},
{"c":1,"a":7,"n":118},{"c":2,"a":7,"n":118},{"c":3,"a":7,"n":118},{"c":4,"a":7,"n":118},{"c":5,"a":7,"n":354},{"c":6,"a":7,"n":590},{"c":7,"a":7,"n":590},{"c":8,"a":7,"n":590},{"c":9,"a":7,"n":590},{"c":10,"a":7,"n":1062},{"c":11,"a":7,"n":1062},{"c":12,"a":7,"n":1534},{"c":13,"a":7,"n":826},{"c":14,"a":7,"n":1534},{"c":15,"a":7,"n":1534},{"c":16,"a":7,"n":1534},{"c":17,"a":7,"n":1298},{"c":18,"a":7,"n":1062},{"c":19,"a":7,"n":1534},{"c":20,"a":7,"n":1534},{"c":21,"a":7,"n":1534},{"c":22,"a":7,"n":1534},{"c":23,"a":7,"n":1298},{"c":24,"a":7,"n":1298},{"c":25,"a":7,"n":1062},{"c":26,"a":7,"n":1062},{"c":27,"a":7,"n":826},{"c":28,"a":7,"n":590},{"c":29,"a":7,"n":590},{"c":30,"a":7,"n":590},{"c":31,"a":7,"n":354},{"c":32,"a":7,"n":354},{"c":33,"a":7,"n":118},{"c":34,"a":7,"n":118},{"c":35,"a":7,"n":118},
{"c":1,"a":6,"n":118},{"c":2,"a":6,"n":118},{"c":3,"a":6,"n":118},{"c":4,"a":6,"n":118},{"c":5,"a":6,"n":354},{"c":6,"a":6,"n":590},{"c":7,"a":6,"n":590},{"c":8,"a":6,"n":590},{"c":9,"a":6,"n":590},{"c":10,"a":6,"n":826},{"c":11,"a":6,"n":1062},{"c":12,"a":6,"n":1534},{"c":13,"a":6,"n":590},{"c":14,"a":6,"n":1534},{"c":15,"a":6,"n":1534},{"c":16,"a":6,"n":1534},{"c":17,"a":6,"n":1062},{"c":18,"a":6,"n":1062},{"c":19,"a":6,"n":1534},{"c":20,"a":6,"n":1534},{"c":21,"a":6,"n":1534},{"c":22,"a":6,"n":1534},{"c":23,"a":6,"n":1062},{"c":24,"a":6,"n":1062},{"c":25,"a":6,"n":1062},{"c":26,"a":6,"n":826},{"c":27,"a":6,"n":590},{"c":28,"a":6,"n":590},{"c":29,"a":6,"n":590},{"c":30,"a":6,"n":354},{"c":31,"a":6,"n":354},{"c":32,"a":6,"n":354},{"c":33,"a":6,"n":118},{"c":34,"a":6,"n":118},{"c":35,"a":6,"n":118}
]},"hconcat":[{"width":211,"height":273,"view":{"stroke":"#7a7a7a","strokeWidth":1,"fill":"#5c0060"},"data":{"name":"cells"},"mark":{"type":"rect","width":6,"height":4.1,"clip":true},"encoding":{"x":{"field":"c","type":"quantitative","scale":{"domain":[0.47,35.87],"nice":false,"zero":false},"axis":{"values":[1,2,3,4,5,6,7,8,9,10,11,12,13,14,15,16,17,18,19,20,21,22,23,24,25,26,27,28,29,30,31,32,33,34,35],"labelExpr":"datum.value%5==0?datum.value:''","tickSize":{"condition":{"test":"datum.value%5==0","value":-8},"value":-4},"tickColor":"black","domainColor":"black","labelFontSize":12,"labelFontWeight":"bold","labelColor":"black","labelPadding":11,"labelFlush":false,"labelOverlap":false,"grid":false,"zindex":1,"title":"cathode no.","titleFontSize":12.5,"titleFontWeight":"bold","titleColor":"black","titleX":99,"titleY":16.5}},"y":{"field":"a","type":"quantitative","scale":{"domain":[5.4,72.7],"nice":false,"zero":false},"axis":{"values":[6,8,10,12,14,16,18,20,22,24,26,28,30,32,34,36,38,40,42,44,46,48,50,52,54,56,58,60,62,64,66,68,70,72],"labelExpr":"datum.value%10==0?datum.value:''","tickSize":{"condition":{"test":"datum.value%10==0","value":-12},"value":-6},"tickColor":"black","domainColor":"black","labelFontSize":12,"labelFontWeight":"bold","labelColor":"black","labelPadding":16,"labelOverlap":false,"grid":false,"zindex":1,"title":"anode no.","titleFontSize":12,"titleFontWeight":"bold","titleColor":"black","titleX":-25,"titleY":34}},"color":{"field":"n","type":"quantitative","legend":null,"scale":{"type":"threshold","domain":[236,472,708,944,1180,1416,1652,1888,2124,2360,2596,2832,3068,3304,3540,3776,4012,4248,4484],"range":["#5c0060","#c800c0","#e600e6","#9600c0","#3c00a0","#1000d8","#0020f0","#0058c8","#109898","#10b070","#10e030","#40ff00","#ffff00","#ffe600","#ffcc00","#ffb400","#ff9600","#ff8000","#ff5000","#ff2000"]}}}},{"width":21,"height":273,"view":{"stroke":null},"layer":[{"data":{"name":"bar"},"mark":{"type":"rect"},"encoding":{"y":{"field":"lo","type":"quantitative","scale":{"domain":[0,4720],"nice":false,"zero":false},"axis":{"orient":"right","values":[500,1000,1500,2000,2500,3000,3500,4000,4500],"format":"d","labelOverlap":false,"zindex":1,"tickSize":-11,"tickColor":"black","domainColor":"#555555","labelFontSize":12,"labelFontWeight":"bold","labelColor":"black","labelPadding":14,"grid":false,"title":null}},"y2":{"field":"hi"},"color":{"field":"n","type":"quantitative","legend":null,"scale":{"type":"threshold","domain":[236,472,708,944,1180,1416,1652,1888,2124,2360,2596,2832,3068,3304,3540,3776,4012,4248,4484],"range":["#5c0060","#c800c0","#e600e6","#9600c0","#3c00a0","#1000d8","#0020f0","#0058c8","#109898","#10b070","#10e030","#40ff00","#ffff00","#ffe600","#ffcc00","#ffb400","#ff9600","#ff8000","#ff5000","#ff2000"]}}}},{"data":{"values":[{"t":"x10"}]},"mark":{"type":"text","font":"Liberation Sans","fontWeight":"bold","fontSize":12,"align":"left","baseline":"bottom","dx":11.5,"dy":2},"encoding":{"text":{"field":"t"},"y":{"value":0}}},{"data":{"values":[{"t":"3"}]},"mark":{"type":"text","font":"Liberation Sans","fontWeight":"bold","fontSize":8,"align":"left","baseline":"bottom","dx":33.5,"dy":-4},"encoding":{"text":{"field":"t"},"y":{"value":0}}}],"resolve":{"scale":{"color":"independent"}}},{"width":60,"height":273,"view":{"stroke":null},"layer":[{"data":{"values":[{"p":52,"s":4,"e":114}]},"mark":{"type":"rule","color":"#707070","strokeWidth":1.5},"encoding":{"x":{"field":"p","type":"quantitative","scale":{"domain":[0,60]},"axis":null},"y":{"field":"s","type":"quantitative","scale":{"domain":[0,273]},"axis":null},"y2":{"field":"e"}}},{"data":{"values":[{"p":52,"s":119.5}]},"mark":{"type":"point","shape":"triangle-up","filled":true,"color":"black","size":144,"opacity":1},"encoding":{"x":{"field":"p","type":"quantitative","scale":{"domain":[0,60]},"axis":null},"y":{"field":"s","type":"quantitative","scale":{"domain":[0,273]},"axis":null}}},{"data":{"values":[{"p":42,"s":53,"t":"beam direction"}]},"mark":{"type":"text","angle":270,"font":"Liberation Sans","fontWeight":"bold","fontSize":13.5,"align":"center","baseline":"middle"},"encoding":{"text":{"field":"t"},"x":{"field":"p","type":"quantitative","scale":{"domain":[0,60]},"axis":null},"y":{"field":"s","type":"quantitative","scale":{"domain":[0,273]},"axis":null}}}]}]}
